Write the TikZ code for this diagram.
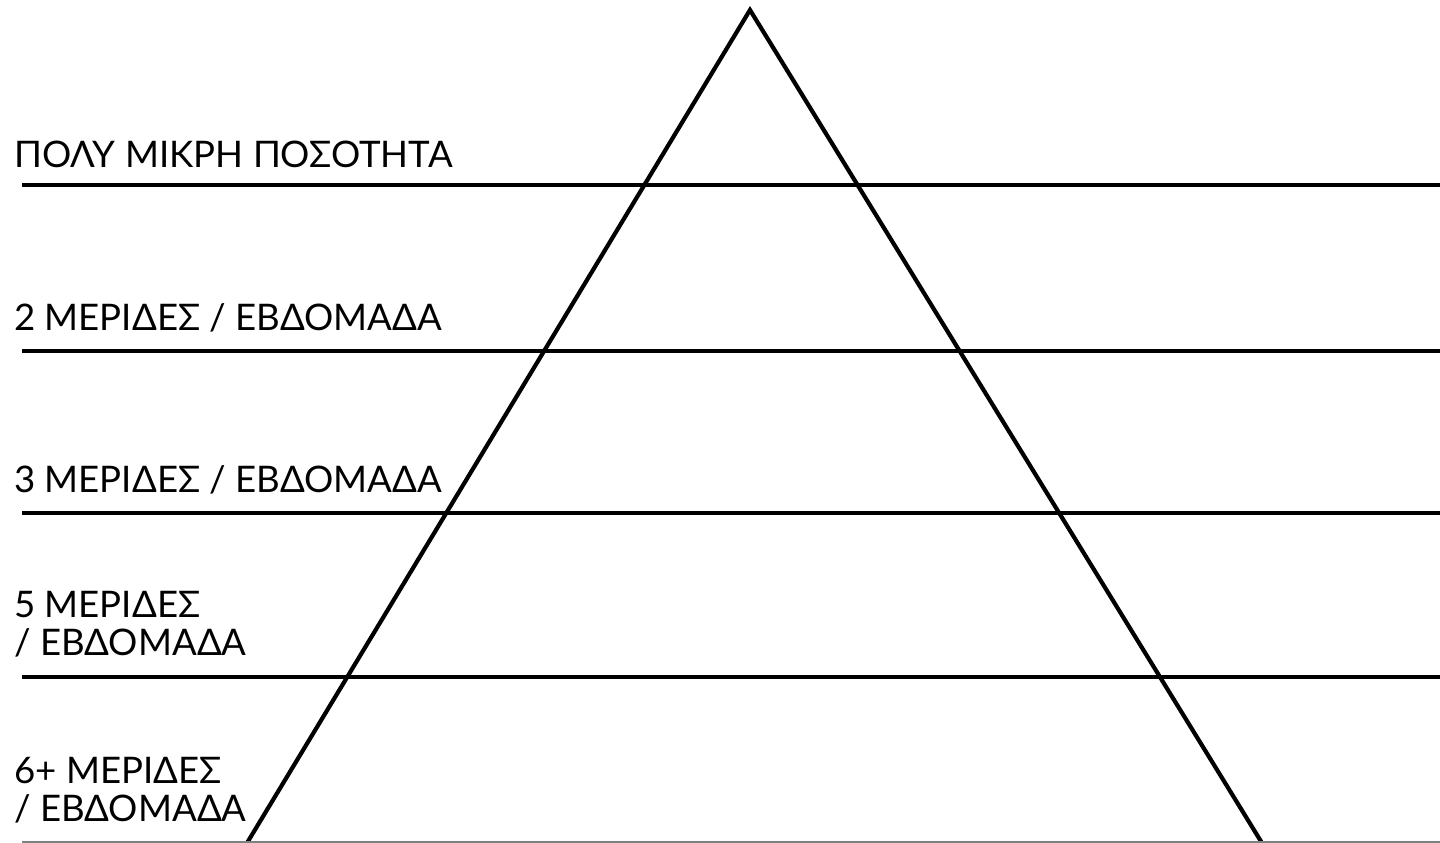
\documentclass[tikz,border=0pt]{standalone}
\usepackage{fontspec}
\setmainfont{Lato}
\usepackage{tikz}

\begin{document}
\begin{tikzpicture}[
    x=1pt, y=-1pt,
    label/.style={anchor=base west, inner sep=0pt, align=left, font=\fontsize{36.6}{38}\selectfont},
    level/.style={line width=4.6pt},
    side/.style={line width=4.2pt}
]
\useasboundingbox (0,0) rectangle (1440,843);

% pyramid
\coordinate (apex) at (750,10);
\coordinate (baseL) at (247,843);
\coordinate (baseR) at (1262,843);
\draw[side] (baseL) -- (apex) -- (baseR);

% levels
\coordinate (l1a) at (22,185);  \coordinate (l1b) at (1440,185);
\coordinate (l2a) at (22,351);  \coordinate (l2b) at (1440,351);
\coordinate (l3a) at (22,513);  \coordinate (l3b) at (1440,513);
\coordinate (l4a) at (22,677);  \coordinate (l4b) at (1440,677);
\coordinate (l5a) at (22,842);  \coordinate (l5b) at (1440,842);
\draw[level] (l1a) -- (l1b);
\draw[level] (l2a) -- (l2b);
\draw[level] (l3a) -- (l3b);
\draw[level] (l4a) -- (l4b);
\draw[line width=1.5pt, gray] (l5a) -- (l5b);

\node[label] (tiny) at (14,167) {ΠΟΛΥ ΜΙΚΡΗ ΠΟΣΟΤΗΤΑ};
\node[label] (two) at (14,330) {2 ΜΕΡΙΔΕΣ / ΕΒΔΟΜΑΔΑ};
\node[label] (three) at (14,492) {3 ΜΕΡΙΔΕΣ / ΕΒΔΟΜΑΔΑ};
\node[label] (five) at (14,655) {5 ΜΕΡΙΔΕΣ\\/ ΕΒΔΟΜΑΔΑ};
\node[label] (six) at (14,821) {6+ ΜΕΡΙΔΕΣ\\/ ΕΒΔΟΜΑΔΑ};
\end{tikzpicture}
\end{document}
